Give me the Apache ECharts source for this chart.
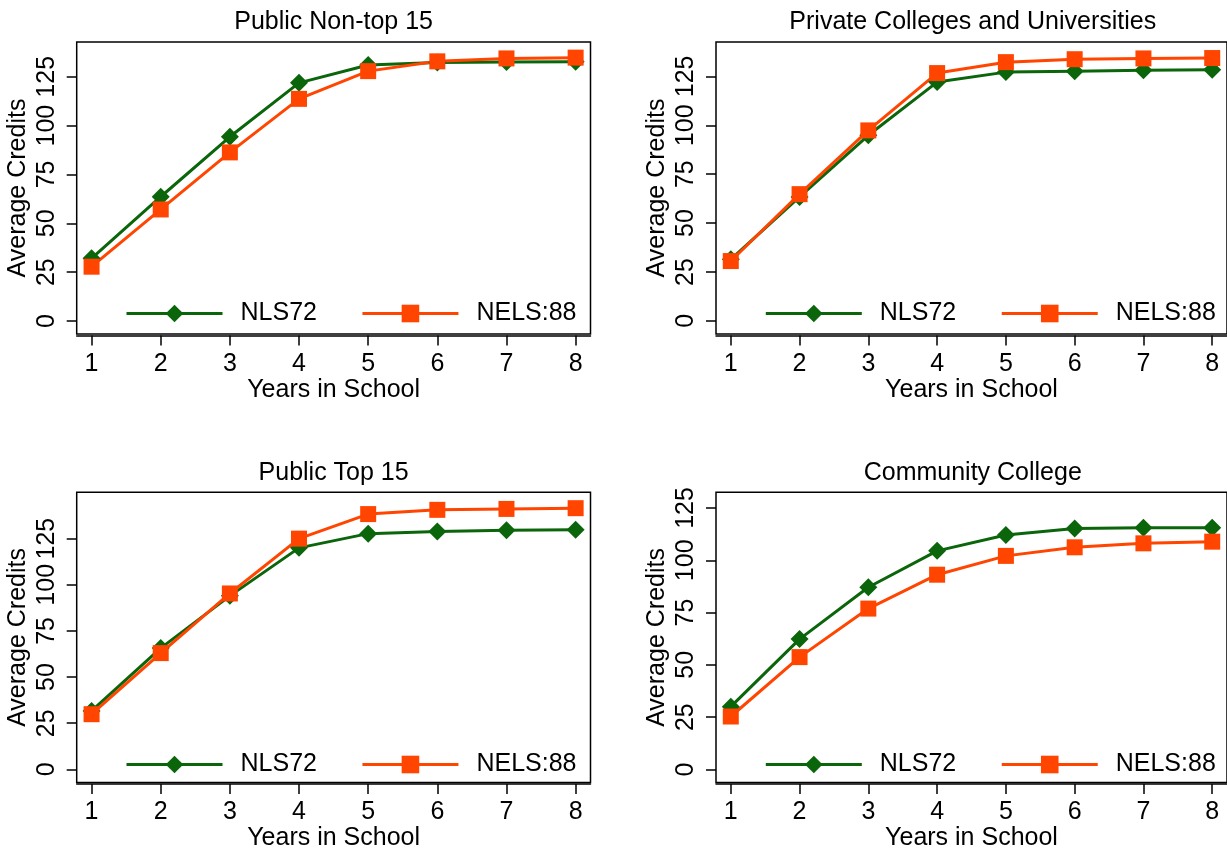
<!DOCTYPE html>
<html>
<head>
<meta charset="utf-8">
<title>Average Credits by Years in School</title>
<script src="https://cdn.jsdelivr.net/npm/echarts@6/dist/echarts.min.js"></script>
<style>
  html, body { margin: 0; padding: 0; background: #fff; }
  #main { width: 1227px; height: 852px; }
</style>
</head>
<body>
<div id="main"></div>
<script>
// x axis: years in school
var years = [1, 2, 3, 4, 5, 6, 7, 8];
var yTicks = [0, 25, 50, 75, 100, 125];

var seriesNames = ['NLS72', 'NELS:88'];
var panelTitles = ['Public Non-top 15', 'Private Colleges and Universities', 'Public Top 15', 'Community College'];

// values
var nls72_publicNonTop15 = [32.1, 63.6, 94.3, 121.9, 131.0, 132.3, 132.5, 132.7];
var nels88_publicNonTop15 = [27.8, 57.1, 86.3, 113.7, 127.9, 132.9, 134.4, 134.8];

var nls72_private = [31.5, 63.4, 94.9, 122.1, 127.2, 127.7, 128.1, 128.4];
var nels88_private = [30.6, 64.8, 97.4, 126.7, 132.3, 133.8, 134.2, 134.4];

var nls72_publicTop15 = [31.7, 65.7, 94.0, 120.0, 127.7, 128.9, 129.5, 129.8];
var nels88_publicTop15 = [29.9, 63.0, 95.3, 125.0, 138.3, 140.6, 141.1, 141.5];

var nls72_community = [30.0, 62.3, 87.1, 104.5, 112.1, 115.2, 115.5, 115.5];
var nels88_community = [25.3, 53.7, 76.9, 93.1, 102.1, 106.2, 108.1, 108.9];

var green = '#0b650b';
var orange = '#ff4500';
var font = "'Liberation Sans', Arial, sans-serif";

var panels = [
    { left: 76.7, top: 42, width: 513.8, height: 292, ymin: -6.65, ymax: 142.8, nls: nls72_publicNonTop15, nels: nels88_publicNonTop15 },
    { left: 716, top: 42, width: 513.5, height: 292, ymin: -6.7, ymax: 142.6, nls: nls72_private, nels: nels88_private },
    { left: 76.7, top: 492.3, width: 513.8, height: 292.7, ymin: -7.15, ymax: 150.1, nls: nls72_publicTop15, nels: nels88_publicTop15 },
    { left: 716, top: 492.3, width: 513.5, height: 292.7, ymin: -6.3, ymax: 132.5, nls: nls72_community, nels: nels88_community }
];

function pairs(values) {
    var out = [];
    for (var i = 0; i < years.length; i++) {
        out.push([years[i], values[i]]);
    }
    return out;
}

var grids = [], xAxes = [], yAxes = [], series = [], titles = [], legends = [];

for (var i = 0; i < panels.length; i++) {
    var p = panels[i];
    grids.push({
        left: p.left, top: p.top, width: p.width, height: p.height,
        show: true, borderColor: '#000', borderWidth: 1.5, backgroundColor: 'transparent'
    });
    titles.push({
        text: panelTitles[i],
        left: p.left + p.width / 2,
        top: p.top - 32,
        textAlign: 'center',
        padding: 0,
        textStyle: { fontFamily: font, fontSize: 25, fontWeight: 'normal', color: '#000' }
    });
    xAxes.push({
        gridIndex: i, type: 'value', min: 0.785, max: 8.215, offset: 1.5,
        name: 'Years in School', nameLocation: 'middle', nameGap: 40,
        nameTextStyle: { fontFamily: font, fontSize: 25, color: '#000' },
        axisLine: { show: true, onZero: false, lineStyle: { color: '#000', width: 1.5 } },
        axisTick: { show: true, length: 10, customValues: years, lineStyle: { color: '#000', width: 1.5 } },
        axisLabel: { customValues: years, margin: 16, fontFamily: font, fontSize: 25, color: '#000' },
        splitLine: { show: false }
    });
    yAxes.push({
        gridIndex: i, type: 'value', min: p.ymin, max: p.ymax,
        name: 'Average Credits', nameLocation: 'middle', nameGap: 46, nameRotate: 90,
        nameTextStyle: { fontFamily: font, fontSize: 25, color: '#000' },
        axisLine: { show: false, onZero: false },
        axisTick: { show: true, length: 10, customValues: yTicks, lineStyle: { color: '#000', width: 1.5 } },
        axisLabel: { customValues: yTicks, rotate: 90, margin: 17, fontFamily: font, fontSize: 25, color: '#000' },
        splitLine: { show: false }
    });
    series.push({
        name: seriesNames[0], type: 'line', xAxisIndex: i, yAxisIndex: i,
        data: pairs(p.nls),
        symbol: 'diamond', symbolSize: 18,
        lineStyle: { color: green, width: 3 },
        itemStyle: { color: green },
        animation: false
    });
    series.push({
        name: seriesNames[1], type: 'line', xAxisIndex: i, yAxisIndex: i,
        data: pairs(p.nels),
        symbol: 'rect', symbolSize: 16,
        lineStyle: { color: orange, width: 3 },
        itemStyle: { color: orange },
        animation: false
    });
    legends.push({
        data: seriesNames,
        left: p.left + 48.3,
        top: p.top + p.height - 33,
        padding: 0,
        itemWidth: 96, itemHeight: 22, itemGap: 44,
        selectedMode: false,
        lineStyle: { width: 3 },
        textStyle: { fontFamily: font, fontSize: 25, color: '#000', padding: [0, 0, 0, 13] }
    });
}

var chart = echarts.init(document.getElementById('main'), null, { renderer: 'canvas' });
chart.setOption({
    backgroundColor: '#fff',
    animation: false,
    title: titles,
    legend: legends,
    grid: grids,
    xAxis: xAxes,
    yAxis: yAxes,
    series: series
});
</script>
</body>
</html>
